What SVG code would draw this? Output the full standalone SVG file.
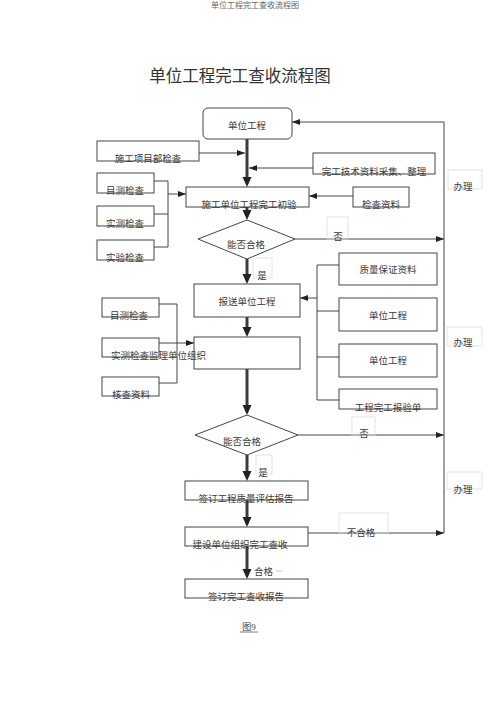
<svg xmlns="http://www.w3.org/2000/svg" width="500" height="708" viewBox="0 0 500 708">
<style>
text{font-family:"Liberation Serif","Noto Sans CJK SC",serif;fill:#3a3a3a;}
.t{font-size:9.5px;text-anchor:middle;}
.box{fill:none;stroke:#444;stroke-width:1;}
.faint{fill:none;stroke:#dcdcdc;stroke-width:0.8;}
.ln{fill:none;stroke:#444;stroke-width:1;}
.thick{fill:none;stroke:#3c3c3c;stroke-width:3;}
</style>
<defs>
<marker id="a" markerUnits="userSpaceOnUse" markerWidth="8" markerHeight="8" viewBox="0 0 8 8" refX="8" refY="4" orient="auto">
<path d="M0,1 L8,4 L0,7 z" fill="#222"/>
</marker>
<marker id="ta" markerUnits="userSpaceOnUse" markerWidth="10" markerHeight="10" viewBox="0 0 10 10" refX="4" refY="5" orient="auto">
<path d="M0,0.5 L10,5 L0,9.5 z" fill="#222"/>
</marker>
</defs>
<rect width="500" height="708" fill="#fff"/>
<text x="255" y="8" style="font-size:8px;text-anchor:middle;fill:#666">单位工程完工查收流程图</text>
<text x="240" y="82" style="font-size:16.5px;text-anchor:middle;fill:#333">单位工程完工查收流程图</text>

<g id="connectors">
<!-- trunk -->
<line class="thick" x1="247" y1="139" x2="247" y2="181" marker-end="url(#ta)"/>
<line class="thick" x1="247" y1="207" x2="247" y2="214" marker-end="url(#ta)"/>
<line class="thick" x1="247" y1="259" x2="247" y2="278" marker-end="url(#ta)"/>
<line class="thick" x1="247" y1="317" x2="247" y2="331" marker-end="url(#ta)"/>
<line class="thick" x1="247" y1="369" x2="247" y2="409" marker-end="url(#ta)"/>
<line class="thick" x1="247" y1="455" x2="247" y2="475" marker-end="url(#ta)"/>
<line class="thick" x1="247" y1="500" x2="247" y2="521" marker-end="url(#ta)"/>
<line class="thick" x1="247" y1="546" x2="247" y2="573" marker-end="url(#ta)"/>
<!-- side inputs top -->
<line class="ln" x1="199" y1="153" x2="245" y2="153" marker-end="url(#a)"/>
<line class="ln" x1="313" y1="168" x2="249" y2="168" marker-end="url(#a)"/>
<line class="ln" x1="353" y1="196" x2="309" y2="196" marker-end="url(#a)"/>
<!-- left group 1 -->
<polyline class="ln" points="154,181 168,181 168,247 154,247"/>
<line class="ln" x1="154" y1="214" x2="168" y2="214"/>
<line class="ln" x1="168" y1="194" x2="186" y2="194" marker-end="url(#a)"/>
<!-- right group -->
<polyline class="ln" points="339,265 317,265 317,400 339,400"/>
<line class="ln" x1="317" y1="311" x2="339" y2="311"/>
<line class="ln" x1="317" y1="357" x2="339" y2="357"/>
<line class="ln" x1="317" y1="298" x2="300" y2="298" marker-end="url(#a)"/>
<!-- left group 2 -->
<polyline class="ln" points="159,304 177,304 177,383 159,383"/>
<line class="ln" x1="159" y1="343" x2="194" y2="343" marker-end="url(#a)"/>
<!-- right return loop -->
<polyline class="ln" points="444,533 444,122 292,122" marker-end="url(#a)"/>
<line class="ln" x1="295" y1="239" x2="444" y2="239" marker-end="url(#a)"/>
<line class="ln" x1="298" y1="435" x2="444" y2="435" marker-end="url(#a)"/>
<line class="ln" x1="308" y1="533" x2="444" y2="533" marker-end="url(#a)"/>
</g>

<g id="n-unit"><rect class="box" x="203" y="108" width="89" height="31" rx="5"/><text class="t" x="247" y="129">单位工程</text></g>
<g id="n-xmb"><rect class="box" x="97" y="141" width="102" height="20"/><text class="t" x="148" y="162">施工项目部检查</text></g>
<g id="n-jszl"><rect class="box" x="313" y="153" width="122" height="21"/><text class="t" x="374" y="175">完工技术资料采集、整理</text></g>
<g id="n-mc1"><rect class="box" x="97" y="173" width="57" height="20"/><text class="t" x="125" y="194">目测检查</text></g>
<g id="n-sc1"><rect class="box" x="97" y="206" width="57" height="20"/><text class="t" x="125" y="227">实测检查</text></g>
<g id="n-sy1"><rect class="box" x="97" y="240" width="57" height="20"/><text class="t" x="125" y="261">实验检查</text></g>
<g id="n-cy"><rect class="box" x="186" y="187" width="123" height="20"/><text class="t" x="249" y="208">施工单位工程完工初验</text></g>
<g id="n-jczl"><rect class="box" x="353" y="187" width="56" height="20"/><text class="t" x="381" y="208">检查资料</text></g>
<g id="n-d1"><polygon class="box" points="247,220 295,239 247,259 198,239"/><text class="t" x="246" y="248">能否合格</text></g>
<g id="l-no1"><rect class="faint" x="327" y="217" width="21" height="22"/><text class="t" x="338" y="240">否</text></g>
<g id="l-yes1"><rect class="faint" x="253" y="258" width="19" height="20"/><text class="t" x="262" y="279">是</text></g>
<g id="n-bs"><rect class="box" x="194" y="284" width="106" height="33"/><text class="t" x="247" y="305">报送单位工程</text></g>
<g id="n-zl"><rect class="box" x="339" y="253" width="98" height="32"/><text class="t" x="388" y="273">质量保证资料</text></g>
<g id="n-u2"><rect class="box" x="339" y="298" width="98" height="33"/><text class="t" x="388" y="319">单位工程</text></g>
<g id="n-u3"><rect class="box" x="339" y="344" width="98" height="33"/><text class="t" x="388" y="364">单位工程</text></g>
<g id="n-byd"><rect class="box" x="339" y="389" width="98" height="20"/><text class="t" x="388" y="411">工程完工报验单</text></g>
<g id="n-mc2"><rect class="box" x="102" y="298" width="57" height="19"/><text class="t" x="129" y="319">目测检查</text></g>
<g id="n-sc2"><rect class="box" x="102" y="338" width="57" height="19"/><text x="111" y="359" style="font-size:9.5px">实测检查监理单位组织</text></g>
<g id="n-hc"><rect class="box" x="102" y="377" width="57" height="19"/><text class="t" x="131" y="398">核查资料</text></g>
<g id="n-jl"><rect class="box" x="194" y="337" width="106" height="32"/></g>
<g id="n-d2"><polygon class="box" points="247,415 298,435 247,455 195,435"/><text class="t" x="242" y="445">能否合格</text></g>
<g id="l-no2"><rect class="faint" x="352" y="417" width="23" height="18"/><text class="t" x="364" y="437">否</text></g>
<g id="l-yes2"><rect class="faint" x="256" y="455" width="16" height="19"/><text class="t" x="263" y="476">是</text></g>
<g id="n-pg"><rect class="box" x="185" y="481" width="123" height="19"/><text class="t" x="246" y="502">签订工程质量评估报告</text></g>
<g id="n-js"><rect class="box" x="185" y="527" width="123" height="19"/><text class="t" x="240" y="548">建设单位组织完工查收</text></g>
<g id="l-bhg"><rect class="faint" x="339" y="513" width="49" height="20"/><text class="t" x="361" y="536">不合格</text></g>
<g id="l-hg"><text x="254" y="575" style="font-size:9.5px">合格</text><line x1="276" y1="571" x2="283" y2="571" stroke="#bbb" stroke-width="0.8"/></g>
<g id="n-bg"><rect class="box" x="185" y="579" width="123" height="19"/><text class="t" x="246" y="600">签订完工查收报告</text></g>
<g id="l-bl1"><rect class="faint" x="448" y="170" width="34" height="19"/><text class="t" x="463" y="190">办理</text></g>
<g id="l-bl2"><rect class="faint" x="447" y="327" width="35" height="19"/><text class="t" x="463" y="346">办理</text></g>
<g id="l-bl3"><rect class="faint" x="447" y="472" width="35" height="17"/><text class="t" x="463" y="493">办理</text></g>
<g id="fig"><text class="t" x="249" y="630" style="font-size:9px">图9</text><line x1="240" y1="632" x2="258" y2="632" stroke="#555" stroke-width="0.8"/></g>
</svg>
